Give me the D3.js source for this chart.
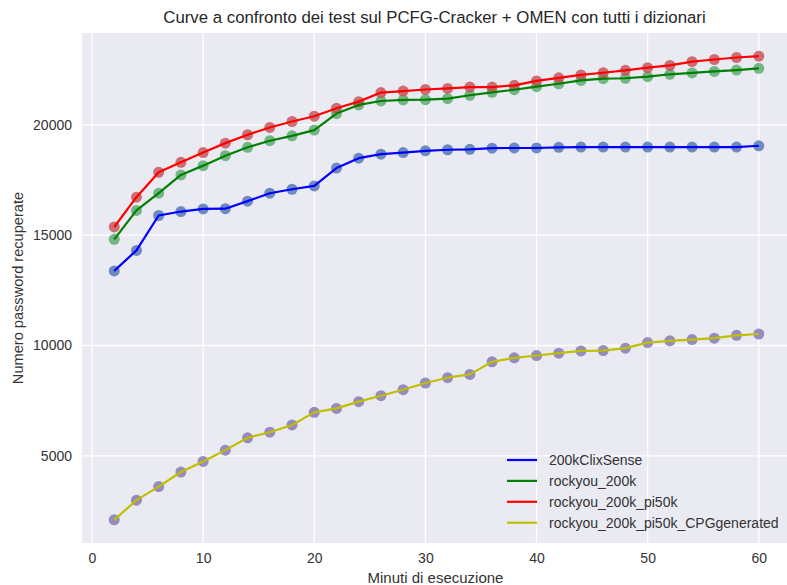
<!DOCTYPE html>
<html>
<head>
<meta charset="utf-8">
<script src="https://cdn.jsdelivr.net/npm/d3@7"></script>
<style>
  html, body { margin: 0; padding: 0; background: #ffffff; }
  svg { display: block; font-family: "Liberation Sans", Arial, sans-serif; }
</style>
</head>
<body>
<svg id="chart" width="787" height="585"></svg>
<script>
// Minutes of execution (x values shared by all series)
const minutes = [2, 4, 6, 8, 10, 12, 14, 16, 18, 20, 22, 24, 26, 28, 30,
                 32, 34, 36, 38, 40, 42, 44, 46, 48, 50, 52, 54, 56, 58, 60];

// Recovered passwords per dictionary
const clixSense = [13380, 14310, 15890, 16070, 16190, 16200, 16540, 16900, 17080, 17230,
                   18040, 18490, 18670, 18740, 18820, 18870, 18890, 18940, 18950, 18950,
                   18980, 18990, 18990, 18990, 18990, 18990, 18990, 18990, 18990, 19050];
const rockyou = [14810, 16120, 16900, 17730, 18150, 18600, 18980, 19280, 19500, 19760,
                 20510, 20900, 21080, 21130, 21140, 21190, 21340, 21470, 21590, 21730,
                 21860, 22010, 22090, 22110, 22180, 22290, 22350, 22420, 22480, 22560];
const rockyouPi50k = [15370, 16720, 17850, 18300, 18740, 19170, 19550, 19880, 20150, 20390,
                      20750, 21050, 21460, 21530, 21600, 21650, 21710, 21710, 21790, 21990,
                      22130, 22260, 22360, 22470, 22590, 22690, 22860, 22960, 23050, 23110];
const rockyouCPG = [2100, 2990, 3605, 4265, 4747, 5258, 5816, 6070, 6400, 6970,
                    7150, 7455, 7725, 7996, 8298, 8540, 8690, 9260, 9440, 9545,
                    9650, 9755, 9770, 9880, 10130, 10210, 10270, 10330, 10460, 10520];

const seriesNames = ["200kClixSense", "rockyou_200k", "rockyou_200k_pi50k", "rockyou_200k_pi50k_CPGgenerated"];
const xTicks = [0, 10, 20, 30, 40, 50, 60];
const yTicks = [5000, 10000, 15000, 20000];

const titleText = "Curve a confronto dei test sul PCFG-Cracker + OMEN con tutti i dizionari";
const xLabel = "Minuti di esecuzione";
const yLabel = "Numero password recuperate";

const lineColors = ["#0000ff", "#008000", "#ff0000", "#bfbf00"];
const markerColors = ["#4c72b0", "#55a868", "#c44e52", "#8172b2"];

const allSeries = [clixSense, rockyou, rockyouPi50k, rockyouCPG];

const svg = d3.select("#chart");
const plot = { left: 82, right: 791, top: 33, bottom: 543 };

// Axis limits with 5% padding around the data
const xMin = d3.min(minutes), xMax = d3.max(minutes);
const xPad = (xMax - xMin) * 0.05;
const allVals = allSeries.flat();
const yMin = d3.min(allVals), yMax = d3.max(allVals);
const yPad = (yMax - yMin) * 0.05;

const x = d3.scaleLinear().domain([xMin - xPad, xMax + xPad]).range([plot.left, plot.right]);
const y = d3.scaleLinear().domain([yMin - yPad, yMax + yPad]).range([plot.bottom, plot.top]);

// Background panel
svg.append("rect")
  .attr("x", plot.left).attr("y", plot.top)
  .attr("width", plot.right - plot.left).attr("height", plot.bottom - plot.top)
  .attr("fill", "#eaeaf2");

// Grid lines
const grid = svg.append("g");
grid.selectAll("line.vx").data(xTicks).join("line")
  .attr("x1", d => x(d)).attr("x2", d => x(d))
  .attr("y1", plot.top).attr("y2", plot.bottom)
  .attr("stroke", "#ffffff").attr("stroke-width", 1.3);
grid.selectAll("line.hy").data(yTicks).join("line")
  .attr("x1", plot.left).attr("x2", plot.right)
  .attr("y1", d => y(d)).attr("y2", d => y(d))
  .attr("stroke", "#ffffff").attr("stroke-width", 1.3);

// Axes (labels only, no domain or tick marks)
const xAxis = svg.append("g")
  .attr("transform", `translate(0,${plot.bottom})`)
  .call(d3.axisBottom(x).tickValues(xTicks).tickSize(0).tickPadding(10).tickFormat(d3.format("d")));
const yAxis = svg.append("g")
  .attr("transform", `translate(${plot.left},0)`)
  .call(d3.axisLeft(y).tickValues(yTicks).tickSize(0).tickPadding(10).tickFormat(d3.format("d")));
[xAxis, yAxis].forEach(a => {
  a.select(".domain").remove();
  a.selectAll("text").attr("font-size", 14).attr("fill", "#333333")
    .attr("font-family", "'Liberation Sans', Arial, sans-serif");
});

// Markers beneath the lines
allSeries.forEach((vals, i) => {
  svg.append("g").selectAll("circle").data(vals).join("circle")
    .attr("cx", (d, j) => x(minutes[j]))
    .attr("cy", d => y(d))
    .attr("r", 5.5)
    .attr("fill", markerColors[i])
    .attr("fill-opacity", 0.8);
});

const line = d3.line().x((d, j) => x(minutes[j])).y(d => y(d));
allSeries.forEach((vals, i) => {
  svg.append("path").datum(vals)
    .attr("d", line)
    .attr("fill", "none")
    .attr("stroke", lineColors[i])
    .attr("stroke-width", 2.2)
    .attr("stroke-linejoin", "round");
});

// Legend (lower right, no frame)
const legend = svg.append("g").attr("transform", "translate(507,460)");
seriesNames.forEach((name, i) => {
  const row = legend.append("g").attr("transform", `translate(0,${i * 20.9})`);
  row.append("line").attr("x1", 0).attr("x2", 30).attr("y1", 0).attr("y2", 0)
    .attr("stroke", lineColors[i]).attr("stroke-width", 2.2);
  row.append("text").attr("x", 42).attr("y", 0).attr("dy", "0.35em")
    .attr("font-size", 14).attr("fill", "#333333").text(name);
});

// Title and axis labels
svg.append("text")
  .attr("x", (plot.left + plot.right) / 2 - 2).attr("y", 17).attr("dy", "0.35em")
  .attr("text-anchor", "middle").attr("font-size", 16.8).attr("fill", "#262626")
  .text(titleText);
svg.append("text")
  .attr("x", (plot.left + plot.right) / 2 - 1).attr("y", 578).attr("dy", "0.35em")
  .attr("text-anchor", "middle").attr("font-size", 15).attr("fill", "#333333")
  .text(xLabel);
svg.append("text")
  .attr("transform", `translate(18,${(plot.top + plot.bottom) / 2}) rotate(-90)`)
  .attr("dy", "0.35em")
  .attr("text-anchor", "middle").attr("font-size", 14.6).attr("fill", "#333333")
  .text(yLabel);
</script>
</body>
</html>
